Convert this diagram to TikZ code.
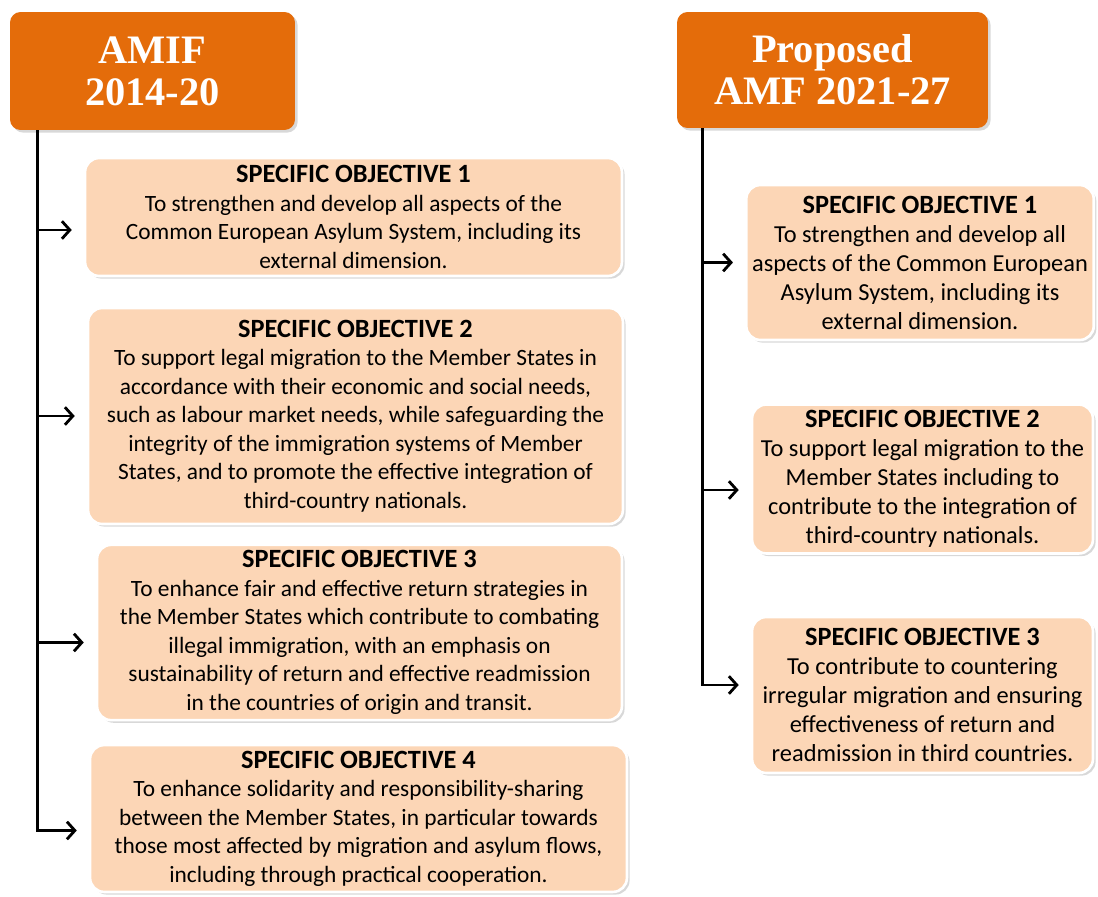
\documentclass[tikz,border=0pt]{standalone}
\usepackage{fontspec}
\setmainfont{Carlito}
\newfontfamily\headfont{Liberation Serif}
\usetikzlibrary{calc,shadows,arrows.meta}
\definecolor{amforange}{RGB}{228,108,10}
\definecolor{objpeach}{RGB}{252,214,182}
\newcommand{\objtitle}[1]{{\fontsize{15}{16}\selectfont\bfseries #1}}
\begin{document}
\begin{tikzpicture}[x=0.02cm,y=-0.02cm,
	header/.style={rounded corners=6pt,fill=amforange,text=white,align=center,
		font=\headfont\bfseries\fontsize{23}{24}\selectfont,
		drop shadow={shadow xshift=1.5pt,shadow yshift=-1.5pt,fill=black!30}},
	objbox/.style={rounded corners=8pt,fill=objpeach,draw=white,line width=1.5pt,align=center,
		font=\fontsize{13.3}{16.2}\selectfont,
		drop shadow={shadow xshift=1.5pt,shadow yshift=-1.5pt,fill=black!30}},
	objboxr/.style={objbox,font=\fontsize{13.9}{16.5}\selectfont},
	branch/.style={line width=1.6pt,-{Straight Barb[length=4.5pt,width=10pt]},shorten >=0.24cm}]
	\useasboundingbox (0,0) rectangle (1098,896);

	% Headers
	\node[header,minimum width=5.7cm,minimum height=2.36cm] (amif) at (152.5,71) {AMIF\\2014-20};
	\node[header,minimum width=6.22cm,minimum height=2.32cm] (amf) at (832.5,70) {Proposed\\AMF 2021-27};

	% AMIF 2014-20 objectives
	\node[objbox,minimum width=10.74cm,minimum height=2.36cm] (lso1) at (353.5,217) {\objtitle{SPECIFIC OBJECTIVE 1}\\
		To strengthen and develop all aspects of the\\
		Common European Asylum System, including its\\
		external dimension.};
	\node[objbox,minimum width=10.7cm,minimum height=4.32cm] (lso2) at (355.5,416) {\objtitle{SPECIFIC OBJECTIVE 2}\\
		To support legal migration to the Member States in\\
		accordance with their economic and social needs,\\
		such as labour market needs, while safeguarding the\\
		integrity of the immigration systems of Member\\
		States, and to promote the effective integration of\\
		third-country nationals.};
	\node[objbox,minimum width=10.5cm,minimum height=3.5cm] (lso3) at (359.5,632.5) {\objtitle{SPECIFIC OBJECTIVE 3}\\
		To enhance fair and effective return strategies in\\
		the Member States which contribute to combating\\
		illegal immigration, with an emphasis on\\
		sustainability of return and effective readmission\\
		in the countries of origin and transit.};
	\node[objbox,minimum width=10.74cm,minimum height=2.86cm] (lso4) at (358.5,818.5) {\objtitle{SPECIFIC OBJECTIVE 4}\\
		To enhance solidarity and responsibility-sharing\\
		between the Member States, in particular towards\\
		those most affected by migration and asylum flows,\\
		including through practical cooperation.};

	% Proposed AMF 2021-27 objectives
	\node[objboxr,minimum width=6.92cm,minimum height=3.1cm] (rso1) at (920,262.5) {\objtitle{SPECIFIC OBJECTIVE 1}\\
		To strengthen and develop all\\
		aspects of the Common European\\
		Asylum System, including its\\
		external dimension.};
	\node[objboxr,minimum width=6.82cm,minimum height=2.96cm] (rso2) at (922.5,479) {\objtitle{SPECIFIC OBJECTIVE 2}\\
		To support legal migration to the\\
		Member States including to\\
		contribute to the integration of\\
		third-country nationals.};
	\node[objboxr,minimum width=6.82cm,minimum height=3.12cm] (rso3) at (922.5,695) {\objtitle{SPECIFIC OBJECTIVE 3}\\
		To contribute to countering\\
		irregular migration and ensuring\\
		effectiveness of return and\\
		readmission in third countries.};

	% Left trunk
	\coordinate (ltop) at ($(amif.south west)+(28,0)$);
	\coordinate (lend1) at ($(lso1.west)+(0,13)$);
	\coordinate (lend3) at ($(lso3.west)+(0,10)$);
	\coordinate (lend4) at ($(lso4.west)+(0,12)$);
	\draw[branch] (ltop) |- (lend4);
	\draw[branch] (ltop |- lend1) -- (lend1);
	\draw[branch] (ltop |- lso2.west) -- (lso2.west);
	\draw[branch] (ltop |- lend3) -- (lend3);

	% Right trunk
	\coordinate (rtop) at ($(amf.south west)+(26,0)$);
	\coordinate (rend2) at ($(rso2.west)+(0,11)$);
	\coordinate (rend3) at ($(rso3.west)+(0,-10)$);
	\draw[branch] (rtop) |- (rend3);
	\draw[branch] (rtop |- rso1.west) -- (rso1.west);
	\draw[branch] (rtop |- rend2) -- (rend2);

\end{tikzpicture}
\end{document}
